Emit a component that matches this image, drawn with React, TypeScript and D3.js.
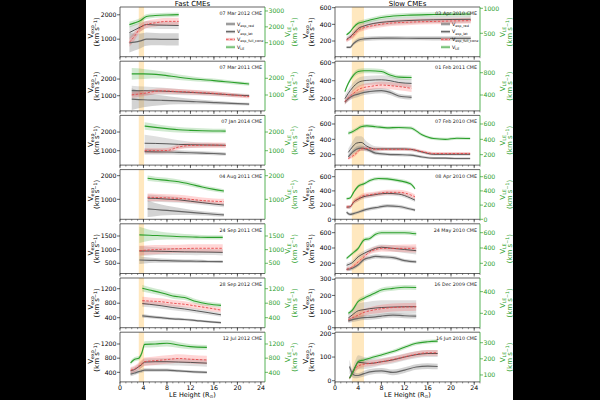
import * as d3 from "d3";

// figure frame
const W = 600;
const H = 400;
const PANEL_TOP = 7;
const PANEL_STEP = 54.2;
const PANEL_H = 49.7;
const FONT = "DejaVu Sans, sans-serif";
const GREEN = "#2ca02c";

type Cme = {
  label: string;
  h: number[];
  rad: number[];
  radErr: number[];
  lat: number[];
  latErr: number[];
  cone: number[];
  coneErr: number[];
  le: number[];
  leErr: number[];
};

// ---- fast events ----
const mar2012: Cme = {
  label: "07 Mar 2012 CME",
  h: [1.6, 2.5, 3.5, 4.5, 6, 8, 10],
  rad: [850, 880, 930, 1000, 1000, 990, 990],
  radErr: [400, 350, 300, 270, 250, 250, 250],
  lat: [1270, 1380, 1500, 1600, 1580, 1570, 1560],
  latErr: [250, 220, 180, 150, 150, 150, 150],
  cone: [870, 1130, 1470, 1600, 1670, 1730, 1730],
  coneErr: [180, 170, 160, 150, 150, 150, 150],
  le: [2140, 2250, 2400, 2650, 2710, 2750, 2770],
  leErr: [180, 170, 160, 150, 140, 140, 140],
};
const mar2011: Cme = {
  label: "07 Mar 2011 CME",
  h: [2, 4, 7, 10, 13, 16, 19, 22],
  rad: [800, 760, 730, 690, 640, 590, 540, 500],
  radErr: [650, 450, 300, 200, 150, 110, 90, 80],
  lat: [1300, 1300, 1280, 1230, 1180, 1120, 1050, 1000],
  latErr: [300, 250, 220, 180, 150, 130, 120, 110],
  cone: [1050, 1140, 1290, 1250, 1200, 1140, 1050, 950],
  coneErr: [180, 170, 160, 150, 140, 130, 120, 110],
  le: [2260, 2260, 2200, 2060, 1940, 1860, 1760, 1660],
  leErr: [350, 300, 220, 170, 140, 120, 110, 100],
};
const jan2014: Cme = {
  label: "07 Jan 2014 CME",
  h: [4.2, 6, 8, 10, 12, 14, 16, 18],
  rad: [950, 940, 930, 910, 890, 870, 850, 820],
  radErr: [150, 140, 130, 120, 110, 100, 90, 80],
  lat: [1400, 1390, 1370, 1340, 1320, 1310, 1300, 1290],
  latErr: [450, 380, 300, 220, 160, 130, 110, 100],
  cone: [1000, 1000, 1010, 1200, 1280, 1290, 1300, 1280],
  coneErr: [130, 130, 130, 140, 140, 140, 140, 140],
  le: [2320, 2250, 2180, 2120, 2090, 2070, 2055, 2050],
  leErr: [200, 180, 160, 150, 140, 130, 120, 120],
};
const aug2011: Cme = {
  label: "04 Aug 2011 CME",
  h: [4.7, 6, 8, 10, 12, 14, 16, 17.7],
  rad: [600, 570, 530, 490, 450, 410, 370, 340],
  radErr: [350, 280, 200, 150, 110, 90, 80, 70],
  lat: [1050, 1040, 1010, 980, 920, 860, 800, 760],
  latErr: [150, 140, 130, 120, 110, 100, 90, 90],
  cone: [1090, 1080, 1060, 1040, 1000, 950, 920, 900],
  coneErr: [160, 160, 150, 150, 140, 130, 120, 120],
  le: [1890, 1850, 1800, 1740, 1640, 1520, 1420, 1350],
  leErr: [120, 110, 110, 100, 100, 90, 90, 80],
};
const sep2011: Cme = {
  label: "24 Sep 2011 CME",
  h: [3.3, 5, 7, 9, 11, 13, 15, 17.5],
  rad: [620, 610, 600, 590, 580, 575, 565, 560],
  radErr: [150, 100, 80, 70, 60, 60, 50, 50],
  lat: [950, 950, 940, 930, 920, 915, 910, 900],
  latErr: [180, 160, 140, 130, 120, 120, 110, 110],
  cone: [960, 990, 1010, 1030, 1040, 1050, 1050, 1050],
  coneErr: [180, 170, 160, 150, 150, 150, 150, 150],
  le: [1540, 1530, 1510, 1490, 1470, 1460, 1450, 1450],
  leErr: [300, 200, 150, 120, 100, 90, 80, 80],
};
const sep2012: Cme = {
  label: "28 Sep 2012 CME",
  h: [3.8, 5, 7, 9, 11, 13, 15, 17.2],
  rad: [450, 430, 400, 370, 350, 320, 290, 265],
  radErr: [50, 45, 40, 35, 35, 30, 30, 30],
  lat: [790, 770, 730, 680, 640, 590, 540, 480],
  latErr: [90, 85, 80, 75, 70, 65, 60, 55],
  cone: [870, 860, 840, 800, 770, 720, 670, 610],
  coneErr: [110, 100, 95, 90, 85, 80, 75, 70],
  le: [1210, 1165, 1090, 1000, 955, 845, 780, 740],
  leErr: [90, 85, 80, 75, 70, 65, 60, 60],
};
const jul2012: Cme = {
  label: "12 Jul 2012 CME",
  h: [1.8, 2.5, 3.2, 3.7, 4.2, 6, 8, 10, 12, 14.8],
  rad: [350, 380, 420, 440, 465, 465, 460, 440, 420, 400],
  radErr: [60, 55, 55, 55, 50, 45, 45, 40, 40, 40],
  lat: [440, 480, 560, 620, 690, 700, 700, 690, 680, 660],
  latErr: [80, 80, 85, 90, 100, 100, 100, 100, 100, 100],
  cone: [460, 500, 580, 640, 700, 730, 760, 790, 770, 750],
  coneErr: [90, 95, 100, 110, 120, 120, 120, 120, 120, 120],
  le: [670, 770, 800, 940, 1190, 1200, 1220, 1170, 1125, 1105],
  leErr: [60, 60, 60, 70, 90, 90, 90, 80, 70, 70],
};

// ---- slow events ----
const apr2010a: Cme = {
  label: "03 Apr 2010 CME",
  h: [2, 2.6, 3.2, 4, 5, 6.6, 8.9, 12.4, 17, 23.4],
  rad: [125, 125, 170, 210, 225, 232, 235, 233, 232, 232],
  radErr: [15, 15, 20, 25, 25, 25, 25, 25, 25, 25],
  lat: [220, 250, 290, 350, 380, 410, 430, 445, 455, 460],
  latErr: [30, 35, 40, 40, 40, 40, 40, 40, 40, 40],
  cone: [210, 240, 270, 330, 360, 385, 410, 425, 435, 445],
  coneErr: [25, 30, 35, 35, 35, 35, 35, 35, 35, 35],
  le: [470, 530, 620, 700, 730, 780, 830, 860, 875, 885],
  leErr: [25, 30, 35, 40, 45, 45, 45, 45, 45, 45],
};
const feb2011: Cme = {
  label: "01 Feb 2011 CME",
  h: [1.7, 2.3, 3, 4, 5, 6, 8, 9.5, 11, 13.2],
  rad: [160, 200, 230, 250, 270, 280, 290, 270, 230, 215],
  radErr: [25, 28, 30, 30, 30, 30, 30, 30, 25, 25],
  lat: [200, 260, 320, 380, 400, 405, 410, 400, 380, 370],
  latErr: [40, 45, 50, 50, 50, 50, 50, 50, 45, 45],
  cone: [165, 210, 250, 300, 325, 335, 352, 345, 335, 315],
  coneErr: [30, 35, 40, 40, 40, 40, 40, 40, 40, 40],
  le: [460, 610, 730, 820, 835, 835, 820, 760, 720, 715],
  leErr: [30, 35, 40, 45, 45, 45, 45, 40, 40, 40],
};
const feb2010: Cme = {
  label: "07 Feb 2010 CME",
  h: [2.3, 3, 3.7, 4.5, 5.5, 7, 9, 11, 13, 15, 17, 19, 21, 23.3],
  rad: [170, 230, 270, 285, 270, 220, 205, 200, 195, 170, 155, 155, 150, 150],
  radErr: [25, 30, 35, 35, 30, 25, 20, 20, 20, 18, 15, 15, 15, 15],
  lat: [230, 300, 350, 360, 310, 275, 275, 275, 270, 235, 205, 205, 205, 205],
  latErr: [50, 70, 90, 80, 60, 35, 25, 25, 25, 20, 20, 20, 20, 20],
  cone: [150, 180, 220, 275, 280, 270, 270, 270, 268, 240, 215, 215, 215, 215],
  coneErr: [20, 25, 25, 25, 25, 22, 20, 20, 20, 20, 20, 20, 20, 20],
  le: [480, 500, 530, 565, 575, 565, 550, 555, 548, 460, 410, 400, 415, 410],
  leErr: [25, 25, 25, 25, 25, 25, 22, 22, 22, 20, 20, 20, 20, 20],
};
const apr2010b: Cme = {
  label: "08 Apr 2010 CME",
  h: [2, 2.6, 3.2, 4, 5, 6, 7.5, 9, 11, 13, 13.8],
  rad: [100, 70, 80, 100, 130, 150, 170, 190, 180, 145, 130],
  radErr: [25, 22, 22, 22, 25, 25, 25, 25, 25, 22, 20],
  lat: [170, 175, 240, 285, 320, 335, 355, 365, 355, 300, 270],
  latErr: [25, 25, 30, 30, 30, 30, 30, 30, 30, 28, 25],
  cone: [175, 175, 245, 290, 335, 345, 365, 380, 380, 345, 315],
  coneErr: [25, 25, 30, 35, 35, 35, 35, 35, 35, 35, 35],
  le: [290, 300, 380, 465, 500, 545, 575, 570, 545, 500, 430],
  leErr: [20, 20, 22, 25, 25, 25, 25, 25, 25, 25, 22],
};
const may2010: Cme = {
  label: "24 May 2010 CME",
  h: [2, 3, 4, 5, 6, 7, 8, 10, 12, 14],
  rad: [120, 135, 180, 250, 275, 290, 285, 275, 235, 220],
  radErr: [25, 25, 25, 28, 28, 28, 25, 25, 22, 20],
  lat: [175, 210, 285, 330, 365, 395, 410, 395, 380, 365],
  latErr: [30, 30, 35, 35, 35, 35, 35, 40, 45, 50],
  cone: [120, 155, 220, 285, 350, 380, 395, 395, 395, 395],
  coneErr: [25, 28, 30, 35, 35, 40, 40, 45, 50, 55],
  le: [265, 330, 395, 505, 525, 580, 600, 600, 600, 585],
  leErr: [20, 22, 25, 28, 28, 28, 28, 28, 28, 28],
};
const dec2009: Cme = {
  label: "16 Dec 2009 CME",
  h: [2.3, 3, 4, 5, 6, 7, 8, 10, 12, 14],
  rad: [42, 50, 57, 62, 64, 67, 72, 78, 74, 72],
  radErr: [12, 14, 15, 15, 15, 15, 15, 15, 15, 15],
  lat: [60, 80, 105, 112, 118, 122, 125, 128, 130, 130],
  latErr: [25, 35, 45, 45, 45, 45, 45, 42, 40, 40],
  cone: [50, 62, 78, 95, 105, 112, 118, 125, 128, 130],
  coneErr: [15, 18, 20, 22, 22, 24, 25, 25, 25, 25],
  le: [200, 230, 310, 340, 365, 390, 415, 430, 440, 438],
  leErr: [15, 18, 20, 22, 22, 22, 22, 22, 22, 22],
};
const jun2010: Cme = {
  label: "16 Jun 2010 CME",
  h: [2.5, 3, 3.5, 4, 5, 6, 8, 10, 12, 14, 16, 17.7],
  rad: [60, 30, 22, 22, 30, 37, 42, 35, 45, 58, 62, 60],
  radErr: [30, 15, 12, 10, 12, 12, 12, 12, 12, 12, 12, 12],
  lat: [12, 35, 60, 78, 75, 73, 80, 88, 100, 110, 115, 115],
  latErr: [8, 15, 25, 30, 25, 20, 15, 15, 15, 15, 15, 15],
  cone: [10, 30, 52, 62, 70, 73, 80, 90, 101, 112, 118, 118],
  coneErr: [6, 8, 10, 12, 12, 12, 12, 12, 12, 12, 12, 12],
  le: [80, 110, 150, 183, 193, 204, 224, 245, 272, 296, 306, 310],
  leErr: [8, 10, 10, 12, 12, 12, 12, 12, 12, 12, 12, 12],
};

const fastCmes = [mar2012, mar2011, jan2014, aug2011, sep2011, sep2012, jul2012];
const slowCmes = [apr2010a, feb2011, feb2010, apr2010b, may2010, dec2009, jun2010];

// axis ranges and tick values per row
const fastExpDomains = [[280, 2320], [90, 3070], [230, 2890], [156, 2257], [126, 1947], [124, 1495], [130, 1533]];
const fastExpTicks = [[1000, 2000], [1000, 2000], [1000, 2000], [1000, 2000], [500, 1000, 1500], [400, 800, 1200], [400, 800, 1200]];
const fastLeDomains = [[120, 3250], [50, 3020], [230, 2890], [156, 2257], [126, 1947], [124, 1495], [130, 1533]];
const fastLeTicks = [[1000, 2000, 3000], [1000, 2000], [1000, 2000], [1000, 2000], [500, 1000, 1500], [400, 800, 1200], [400, 800, 1200]];

const slowExpDomains = [[12, 608], [64, 617], [64, 712], [0, 700], [67, 716], [0, 308], [-5, 205]];
const slowExpTicks = [[200, 400, 600], [200, 400, 600], [200, 400, 600], [0, 200, 400, 600], [200, 400, 600], [0, 100, 200, 300], [0, 100, 200]];
const slowLeDomains = [[32, 1026], [115, 1006], [64, 712], [0, 700], [67, 716], [67, 526], [57, 365]];
const slowLeTicks = [[500, 1000], [400, 800], [200, 400, 600], [0, 200, 400, 600], [200, 400, 600], [200, 400], [100, 200, 300]];

const heightTicks = [0, 4, 8, 12, 16, 20, 24];
const fastSpan = [3.2, 4.1];
const slowSpan = [2.9, 5.0];

const legendItems = [
  { sub: "exp_rad", line: "#666", band: "#999", dash: "" },
  { sub: "exp_lat", line: "#333", band: "#aaa", dash: "" },
  { sub: "exp_full_cone", line: "#e8474a", band: "#f4a0a0", dash: "2.5,1.5" },
  { sub: "LE", line: GREEN, band: "#9ed49e", dash: "" },
];

type PanelProps = {
  id: string;
  x0: number;
  y0: number;
  w: number;
  cme: Cme;
  xMax: number;
  expDomain: number[];
  expTicks: number[];
  leDomain: number[];
  leTicks: number[];
  span: number[];
  bottom: boolean;
  legend: boolean;
};

// two-line rotated axis title: "V_sub" over "(km s^-1)"
function VLabel({ x, y, sub, color }: { x: number; y: number; sub: string; color: string }) {
  const fs = 7;
  return (
    <g fill={color} fontSize={fs}>
      <text transform={`translate(${x},${y}) rotate(-90)`} textAnchor="middle">
        V<tspan dy={1.2} fontSize={fs * 0.68}>{sub}</tspan>
      </text>
      <text transform={`translate(${x + 6.8},${y}) rotate(-90)`} textAnchor="middle">
        (km s<tspan dy={-2.6} fontSize={fs * 0.68}>−1</tspan>
        <tspan dy={2.6}>)</tspan>
      </text>
    </g>
  );
}

function Panel(p: PanelProps) {
  const { cme } = p;
  const x = d3.scaleLinear().domain([0, p.xMax]).range([p.x0, p.x0 + p.w]);
  const yExp = d3.scaleLinear().domain(p.expDomain).range([p.y0 + PANEL_H, p.y0]);
  const yLe = d3.scaleLinear().domain(p.leDomain).range([p.y0 + PANEL_H, p.y0]);
  const idx = d3.range(cme.h.length);

  const band = (v: number[], e: number[], y: d3.ScaleLinear<number, number>) =>
    d3.area<number>()
      .x((i) => x(cme.h[i]))
      .y0((i) => y(v[i] - e[i]))
      .y1((i) => y(v[i] + e[i]))
      .curve(d3.curveMonotoneX)(idx) ?? "";
  const line = (v: number[], y: d3.ScaleLinear<number, number>) =>
    d3.line<number>()
      .x((i) => x(cme.h[i]))
      .y((i) => y(v[i]))
      .curve(d3.curveMonotoneX)(idx) ?? "";

  const right = p.x0 + p.w;
  const bottomY = p.y0 + PANEL_H;
  const minor = d3.range(0, Math.floor(p.xMax) + 1);

  return (
    <g>
      <clipPath id={p.id}>
        <rect x={p.x0} y={p.y0} width={p.w} height={PANEL_H} />
      </clipPath>
      <g clipPath={`url(#${p.id})`}>
        <rect x={x(p.span[0])} y={p.y0} width={x(p.span[1]) - x(p.span[0])} height={PANEL_H} fill="#ffa500" opacity={0.25} />
        <path d={band(cme.rad, cme.radErr, yExp)} fill="#808080" opacity={0.35} />
        <path d={band(cme.lat, cme.latErr, yExp)} fill="#808080" opacity={0.25} />
        <path d={band(cme.cone, cme.coneErr, yExp)} fill="#ff3030" opacity={0.2} />
        <path d={band(cme.le, cme.leErr, yLe)} fill={GREEN} opacity={0.22} />
        <path d={line(cme.rad, yExp)} fill="none" stroke="#666" strokeWidth={1.2} />
        <path d={line(cme.lat, yExp)} fill="none" stroke="#333" strokeWidth={0.8} />
        <path d={line(cme.cone, yExp)} fill="none" stroke="#e8474a" strokeWidth={0.9} strokeDasharray="2.5,1.5" />
        <path d={line(cme.le, yLe)} fill="none" stroke={GREEN} strokeWidth={1.1} />
      </g>

      {/* frame */}
      <path d={`M${right},${p.y0}H${p.x0}V${bottomY}H${right}`} fill="none" stroke="#222" strokeWidth={0.7} />
      <line x1={right} x2={right} y1={p.y0} y2={bottomY} stroke={GREEN} strokeWidth={0.8} />

      {/* height ticks */}
      {minor.map((t) => (
        <line key={`m${t}`} x1={x(t)} x2={x(t)} y1={bottomY} y2={bottomY + 1.5} stroke="#222" strokeWidth={0.5} />
      ))}
      {heightTicks.map((t) => (
        <g key={`h${t}`}>
          <line x1={x(t)} x2={x(t)} y1={bottomY} y2={bottomY + 3} stroke="#222" strokeWidth={0.7} />
          {p.bottom && (
            <text x={x(t)} y={bottomY + 8} textAnchor="middle" fontSize={6.3}>{t}</text>
          )}
        </g>
      ))}

      {/* expansion speed axis */}
      {p.expTicks.map((t) => (
        <g key={`e${t}`}>
          <line x1={p.x0 - 3} x2={p.x0} y1={yExp(t)} y2={yExp(t)} stroke="#222" strokeWidth={0.7} />
          <text x={p.x0 - 3.5} y={yExp(t) + 2.2} textAnchor="end" fontSize={6.2}>{t}</text>
        </g>
      ))}
      <VLabel x={p.x0 - 27.5} y={p.y0 + PANEL_H / 2} sub="exp" color="#000" />

      {/* leading-edge speed axis */}
      {p.leTicks.map((t) => (
        <g key={`l${t}`}>
          <line x1={right} x2={right + 3} y1={yLe(t)} y2={yLe(t)} stroke={GREEN} strokeWidth={0.7} />
          <text x={right + 3.5} y={yLe(t) + 2.2} fontSize={6.2} fill={GREEN}>{t}</text>
        </g>
      ))}
      <VLabel x={right + 25} y={p.y0 + PANEL_H / 2} sub="LE" color={GREEN} />

      <text x={right - 3} y={p.y0 + 8} textAnchor="end" fontSize={4.8} fill="#222">{cme.label}</text>

      {p.legend && legendItems.map((it, i) => {
        const ly = p.y0 + 17 + i * 7.7;
        return (
          <g key={it.sub}>
            <rect x={p.x0 + 106} y={ly - 1.5} width={9} height={3} fill={it.band} opacity={0.6} />
            <line x1={p.x0 + 106} x2={p.x0 + 115} y1={ly} y2={ly} stroke={it.line} strokeWidth={0.8} strokeDasharray={it.dash} />
            <text x={p.x0 + 117} y={ly + 1.6} fontSize={4.8}>
              V<tspan dy={1.2} fontSize={3.4}>{it.sub}</tspan>
            </text>
          </g>
        );
      })}
    </g>
  );
}

function Column({ title, x0, xMax, cmes, expDomains, expTicks, leDomains, leTicks, span, tag }: {
  title: string; x0: number; xMax: number; cmes: Cme[]; expDomains: number[][]; expTicks: number[][];
  leDomains: number[][]; leTicks: number[][]; span: number[]; tag: string;
}) {
  const w = 145;
  const last = PANEL_TOP + (cmes.length - 1) * PANEL_STEP + PANEL_H;
  return (
    <g>
      <text x={x0 + w / 2} y={6} textAnchor="middle" fontSize={7}>{title}</text>
      {cmes.map((c, i) => (
        <Panel
          key={c.label}
          id={`${tag}${i}`}
          x0={x0}
          y0={PANEL_TOP + i * PANEL_STEP}
          w={w}
          cme={c}
          xMax={xMax}
          expDomain={expDomains[i]}
          expTicks={expTicks[i]}
          leDomain={leDomains[i]}
          leTicks={leTicks[i]}
          span={span}
          bottom={i === cmes.length - 1}
          legend={i === 0}
        />
      ))}
      <text x={x0 + w / 2} y={last + 15} textAnchor="middle" fontSize={6.5}>
        LE Height (R<tspan dy={1.5} fontSize={4.6}>⊙</tspan><tspan dy={-1.5}>)</tspan>
      </text>
    </g>
  );
}

export default function App() {
  return (
    <svg
      width={W}
      height={H}
      viewBox={`0 0 ${W} ${H}`}
      style={{ position: "absolute", left: 0, top: 0 }}
      fontFamily={FONT}
    >
      <rect width={W} height={H} fill="#000" />
      <rect x={86} y={0} width={427} height={H} fill="#fff" />
      <Column title="Fast CMEs" x0={120} xMax={24.7} cmes={fastCmes} expDomains={fastExpDomains} expTicks={fastExpTicks}
        leDomains={fastLeDomains} leTicks={fastLeTicks} span={fastSpan} tag="f" />
      <Column title="Slow CMEs" x0={335} xMax={25} cmes={slowCmes} expDomains={slowExpDomains} expTicks={slowExpTicks}
        leDomains={slowLeDomains} leTicks={slowLeTicks} span={slowSpan} tag="s" />
    </svg>
  );
}
